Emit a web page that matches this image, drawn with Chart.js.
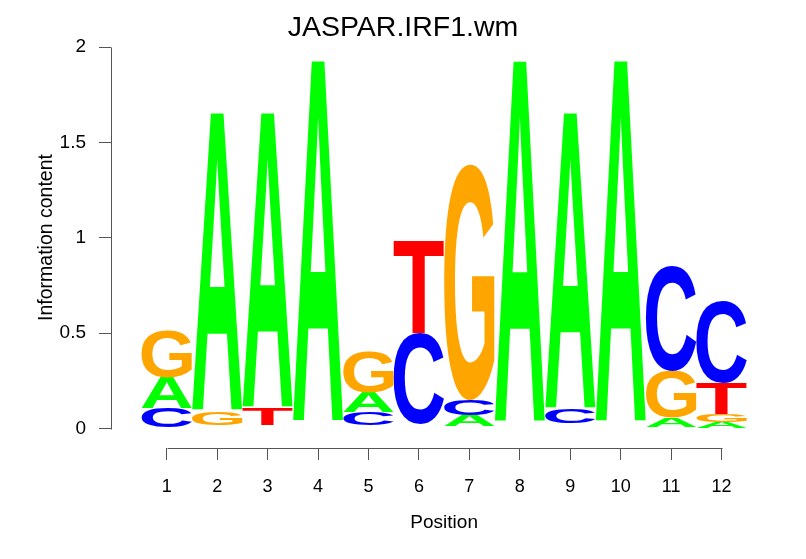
<!DOCTYPE html>
<html><head><meta charset="utf-8">
<script src="https://cdn.jsdelivr.net/npm/chart.js@4/dist/chart.umd.min.js"></script>
<style>html,body{margin:0;padding:0;background:#fff}#wrap{width:806px;height:559px;position:relative}</style>
</head><body><div id="wrap"><canvas id="c"></canvas></div>
<script>
// ---- data (information content per letter, per position) ----
const positions = [1, 2, 3, 4, 5, 6, 7, 8, 9, 10, 11, 12];
const icA = [0.160, 1.567, 1.551, 1.900, 0.105, 0.011, 0.057, 1.900, 1.557, 1.900, 0.045, 0.035];
const icC = [0.100, 0.010, 0.010, 0.010, 0.068, 0.478, 0.080, 0.010, 0.072, 0.010, 0.550, 0.430];
const icG = [0.250, 0.070, 0.009, 0.010, 0.217, 0.011, 1.238, 0.009, 0.013, 0.010, 0.245, 0.040];
const icT = [0.008, 0.010, 0.087, 0.011, 0.017, 0.484, 0.012, 0.010, 0.015, 0.010, 0.010, 0.162];
const yTicks = [0, 0.5, 1, 1.5, 2];
const yTickLabels = ['0', '0.5', '1', '1.5', '2'];
const titleText = 'JASPAR.IRF1.wm';
const xTitle = 'Position';
const yTitle = 'Information content';

const letterColors = { A: '#00FF00', C: '#0000FF', G: '#FFA500', T: '#FF0000' };
const FONT = '"Liberation Sans", Arial, Helvetica, sans-serif';

// build stacked layers: smallest letter at the bottom
const byLetter = { A: icA, C: icC, G: icG, T: icT };
const layers = [[], [], [], []];
const layerLetters = [[], [], [], []];
positions.forEach((p, i) => {
  const items = ['A', 'C', 'G', 'T'].map(L => ({ L, v: byLetter[L][i] }));
  items.sort((a, b) => a.v - b.v);
  let acc = 0;
  items.forEach((it, k) => {
    layers[k].push({ x: p, y: [acc, acc + it.v] });
    layerLetters[k].push(it.L);
    acc += it.v;
  });
});

const datasets = layers.map((d, k) => ({
  data: d,
  letters: layerLetters[k],
  backgroundColor: 'rgba(0,0,0,0)',
  borderWidth: 0,
  barPercentage: 1,
  categoryPercentage: 1,
  grouped: false
}));

const glyphCache = {};
function glyphBox(ctx, L) {
  if (glyphCache[L]) return glyphCache[L];
  ctx.save();
  ctx.font = 'bold 200px ' + FONT;
  const m = ctx.measureText(L);
  ctx.restore();
  const g = { l: m.actualBoundingBoxLeft, r: m.actualBoundingBoxRight, a: m.actualBoundingBoxAscent, d: m.actualBoundingBoxDescent };
  glyphCache[L] = g;
  return g;
}

const logoLetters = {
  id: 'logoLetters',
  afterDatasetsDraw(chart) {
    const ctx = chart.ctx;
    chart.data.datasets.forEach((ds, di) => {
      const meta = chart.getDatasetMeta(di);
      meta.data.forEach((el, i) => {
        const L = ds.letters[i];
        const p = el.getProps(['x', 'y', 'base', 'width'], true);
        const top = Math.min(p.y, p.base);
        const h = Math.abs(p.base - p.y);
        if (h < 3) return;
        const g = glyphBox(ctx, L);
        const gw = g.l + g.r, gh = g.a + g.d;
        ctx.save();
        ctx.translate(p.x - p.width / 2, top);
        ctx.scale(p.width / gw, h / gh);
        ctx.font = 'bold 200px ' + FONT;
        ctx.textAlign = 'left';
        ctx.textBaseline = 'alphabetic';
        ctx.fillStyle = letterColors[L];
        ctx.fillText(L, g.l, g.a);
        ctx.restore();
      });
    });
  }
};

const logoAxes = {
  id: 'logoAxes',
  afterDraw(chart) {
    const ctx = chart.ctx;
    const xs = chart.scales.x, ys = chart.scales.y;
    const ca = chart.chartArea;
    const x0 = xs.getPixelForValue(positions[0]);
    const x1 = xs.getPixelForValue(positions[positions.length - 1]);
    ctx.save();
    ctx.strokeStyle = '#555';
    ctx.lineWidth = 1;
    ctx.beginPath();
    const yx = Math.round(ca.left) + 0.5;
    ctx.moveTo(yx, Math.round(ys.getPixelForValue(yTicks[0])) + 0.5);
    ctx.lineTo(yx, Math.round(ys.getPixelForValue(yTicks[yTicks.length - 1])) + 0.5);
    const xy = Math.round(ca.bottom) + 0.5;
    ctx.moveTo(Math.round(x0) + 0.5, xy);
    ctx.lineTo(Math.round(x1) + 0.5, xy);
    ctx.stroke();
    ctx.fillStyle = '#000';
    ctx.textAlign = 'center';
    ctx.textBaseline = 'alphabetic';
    ctx.font = '19px ' + FONT;
    ctx.fillText(xTitle, (x0 + x1) / 2, 528);
    ctx.font = '19.5px ' + FONT;
    ctx.translate(51.5, 237.5);
    ctx.rotate(-Math.PI / 2);
    ctx.fillText(yTitle, 0, 0);
    ctx.restore();
  }
};

new Chart(document.getElementById('c'), {
  type: 'bar',
  data: { datasets },
  options: {
    responsive: true,
    maintainAspectRatio: false,
    animation: false,
    events: [],
    layout: { padding: { top: 0, left: 0, right: 0, bottom: 0 } },
    plugins: {
      legend: { display: false },
      tooltip: { enabled: false },
      title: {
        display: true,
        text: titleText,
        color: '#000',
        font: { family: FONT, size: 28.5, weight: 'normal' },
        padding: { top: 11, bottom: 2 }
      }
    },
    scales: {
      x: {
        type: 'linear',
        offset: false,
        min: -0.104,
        max: 13.673,
        afterBuildTicks: s => { s.ticks = positions.map(v => ({ value: v })); },
        afterFit: s => { s.height = 111; },
        ticks: { autoSkip: false, maxRotation: 0, color: '#000', padding: 16, font: { family: FONT, size: 18 } },
        grid: { display: true, offset: false, drawOnChartArea: false, drawTicks: true, tickLength: 12, color: '#555', lineWidth: 1 },
        border: { display: false }
      },
      y: {
        type: 'linear',
        min: -0.102,
        max: 2,
        afterBuildTicks: s => { s.ticks = yTicks.map(v => ({ value: v })); },
        afterFit: s => { s.width = 111; },
        ticks: { color: '#000', padding: 13, font: { family: FONT, size: 19 }, callback: (v, i) => yTickLabels[i] },
        grid: { display: true, drawOnChartArea: false, drawTicks: true, tickLength: 12, color: '#555', lineWidth: 1 },
        border: { display: false }
      }
    }
  },
  plugins: [logoLetters, logoAxes]
});
</script>
</body></html>
